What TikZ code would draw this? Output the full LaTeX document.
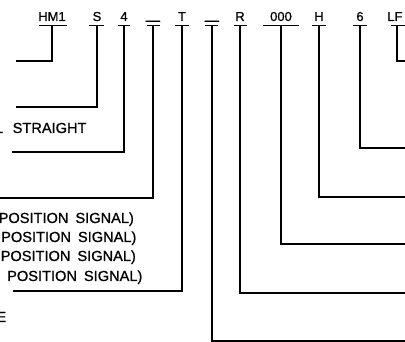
\documentclass[tikz,border=0pt]{standalone}
\usepackage{fontspec}
\setmainfont{Liberation Sans}
\newfontfamily\cadfont[FakeBold=0.8]{Liberation Sans}
\newcommand\wgap{\hspace{7pt}}
\newcommand\wideus{\scalebox{1.9}[1.3]{\_}}
\begin{document}
\begin{tikzpicture}[x=1pt,y=-1pt,
  lbl/.style={font=\cadfont\fontsize{13}{13}\selectfont, inner sep=0pt, anchor=base},
  txt/.style={font=\cadfont\fontsize{14.6}{14.6}\selectfont, inner sep=0pt, anchor=base west},
  cut/.style={txt, anchor=base east},
  wire/.style={line width=1.3pt},
  uline/.style={line width=1.3pt}]
\useasboundingbox (0,0) rectangle (405,342);
\clip (0,0) rectangle (405,342);
% labels
\node[lbl] (hm1) at (52,21) {HM1};
\node[lbl] (s) at (97,21) {S};
\node[lbl] (four) at (124,21) {4};
\node[lbl] (ua) at (153,18.5) {\wideus};
\node[lbl] (t) at (182,21) {T};
\node[lbl] (ub) at (212,18.5) {\wideus};
\node[lbl] (r) at (240,21) {R};
\node[lbl] (zero) at (281,21) {000};
\node[lbl] (h) at (319,21) {H};
\node[lbl] (six) at (360,21) {6};
\node[lbl] (lf) at (395,21) {LF};
% underlines
\draw[uline] (39,25.5) -- (67,25.5);
\draw[uline] (89,25.5) -- (104,25.5);
\draw[uline] (118,25.5) -- (130,25.5);
\draw[uline] (147,25.5) -- (160,25.5);
\draw[uline] (175,25.5) -- (189,25.5);
\draw[uline] (205,25.5) -- (218,25.5);
\draw[uline] (234,25.5) -- (247,25.5);
\draw[uline] (263,25.5) -- (299,25.5);
\draw[uline] (312,25.5) -- (326,25.5);
\draw[uline] (353,25.5) -- (367,25.5);
\draw[uline] (391,25.5) -- (405,25.5);
% connector ends
\coordinate (ul) at (0,25.5);
\coordinate (e-hm1) at (16,61);
\coordinate (e-s) at (16,107);
\coordinate (e-four) at (12,152);
\coordinate (e-ua) at (-2,198);
\coordinate (e-t) at (13,291);
\coordinate (e-ub) at (407,341);
\coordinate (e-r) at (407,293);
\coordinate (e-zero) at (407,244);
\coordinate (e-h) at (407,197);
\coordinate (e-six) at (407,148);
\coordinate (lfx) at (397,0);
\coordinate (e-lf) at (407,61);
% connectors
\draw[wire] (hm1 |- ul) |- (e-hm1);
\draw[wire] (s |- ul) |- (e-s);
\draw[wire] (four |- ul) |- (e-four);
\draw[wire] (ua |- ul) |- (e-ua);
\draw[wire] (t |- ul) |- (e-t);
\draw[wire] (ub |- ul) |- (e-ub);
\draw[wire] (r |- ul) |- (e-r);
\draw[wire] (zero |- ul) |- (e-zero);
\draw[wire] (h |- ul) |- (e-h);
\draw[wire] (six |- ul) |- (e-six);
\draw[wire] (lfx |- ul) |- (e-lf);
% left texts
\node[cut] (lcut) at (3.2,133) {L};
\node[txt] (straight) at (12.5,133) {STRAIGHT};
\node[txt] (p1) at (-1.5,223) {POSITION\wgap SIGNAL)};
\node[txt] (p2) at (1,242) {POSITION\wgap SIGNAL)};
\node[txt] (p3) at (0.5,261) {POSITION\wgap SIGNAL)};
\node[txt] (p4) at (7,281) {POSITION\wgap SIGNAL)};
\node[cut] (ecut) at (6.5,322) {E};
\end{tikzpicture}
\end{document}
